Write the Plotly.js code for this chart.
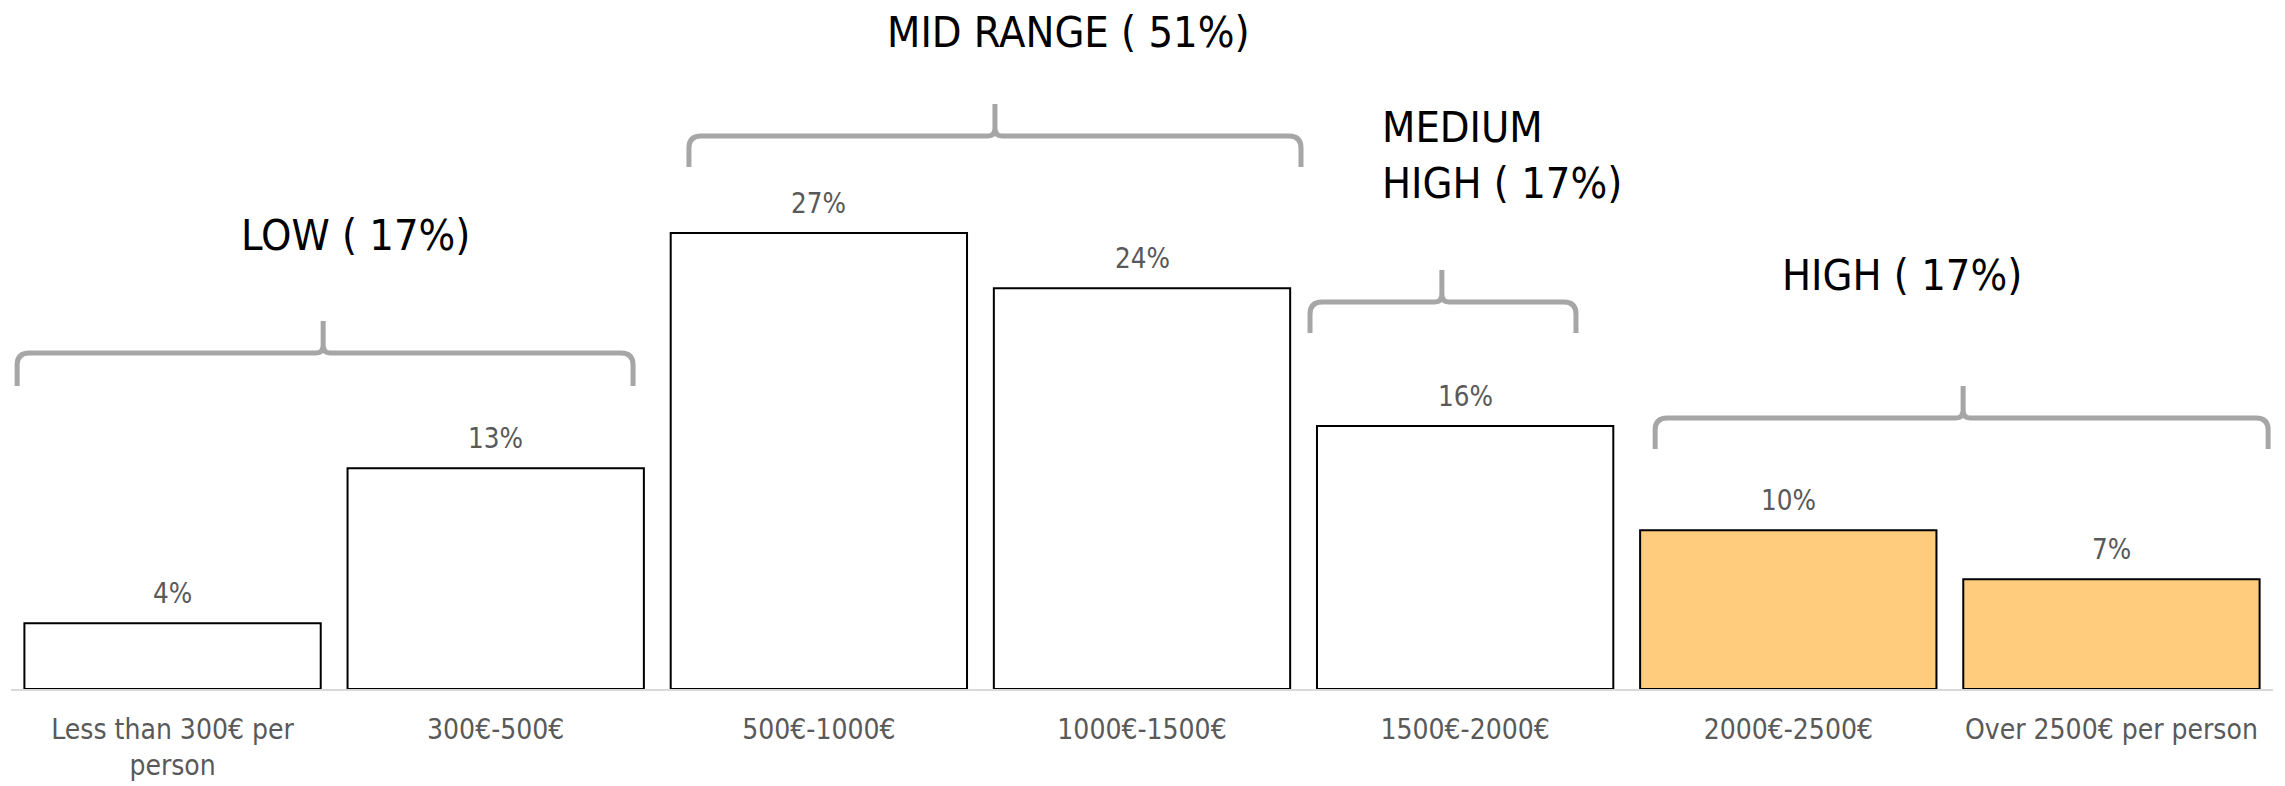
<!DOCTYPE html>
<html>
<head>
<meta charset="utf-8">
<script src="https://cdn.plot.ly/plotly-3.0.1.min.js"></script>
<style>
  html, body { margin: 0; padding: 0; background: #ffffff; }
  #chart { width: 2285px; height: 786px; }
</style>
</head>
<body>
<div id="chart"></div>
<script>
// ---- data ----
const categories = [
  "Less than 300€ per<br>person",
  "300€-500€",
  "500€-1000€",
  "1000€-1500€",
  "1500€-2000€",
  "2000€-2500€",
  "Over 2500€ per person"
];
const shares = [3.93, 13.2, 27.26, 23.96, 15.72, 9.49, 6.56];
const shareLabels = ["4%", "13%", "27%", "24%", "16%", "10%", "7%"];

const groupNames = ["LOW ( 17%)", "MID RANGE ( 51%)", "MEDIUM<br>HIGH ( 17%)", "HIGH ( 17%)"];
// brace spans in axis units: [start, end, tip x] along category index, [foot, line, tip] along %
const braceStart = [-0.481, 1.598, 3.520, 4.588];
const braceEnd   = [1.425, 3.492, 4.343, 6.485];
const braceTip   = [0.466, 2.545, 3.928, 5.541];
const braceFoot  = [18.12, 31.21, 21.29, 14.35];
const braceLine  = [20.09, 33.06, 23.14, 16.20];
const braceTop   = [22.00, 34.98, 25.05, 18.12];
// group title positions in axis units
const groupLabelX = [0.565, 2.771, 3.737, 5.351];
const groupLabelY = [27.15, 39.28, 31.95, 24.75];

// ---- styles ----
const barColors = ["#ffffff", "#ffffff", "#ffffff", "#ffffff", "#ffffff", "#ffcc7d", "#ffcc7d"];
const FONT = '"DejaVu Sans Condensed", "DejaVu Sans", sans-serif';
const W = 2285, H = 786;
const M = { l: 11, r: 12, t: 20, b: 97 };
const Y_MAX = 40;
const pxPerX = (W - M.l - M.r) / categories.length;
const pxPerY = (H - M.t - M.b) / Y_MAX;

function bracePath(i) {
  const x0 = braceStart[i], x1 = braceEnd[i], xm = braceTip[i];
  const yF = braceFoot[i], yL = braceLine[i], yT = braceTop[i];
  const rx = 12 / pxPerX, ry = 12 / pxPerY;
  const cx = 7 / pxPerX, cy = 8 / pxPerY;
  return [
    `M ${x0},${yF}`,
    `L ${x0},${yL - ry}`,
    `Q ${x0},${yL} ${x0 + rx},${yL}`,
    `L ${xm - cx},${yL}`,
    `Q ${xm},${yL} ${xm},${yL + cy}`,
    `L ${xm},${yT}`,
    `M ${xm},${yL + cy}`,
    `Q ${xm},${yL} ${xm + cx},${yL}`,
    `L ${x1 - rx},${yL}`,
    `Q ${x1},${yL} ${x1},${yL - ry}`,
    `L ${x1},${yF}`
  ].join(' ');
}

const trace = {
  type: 'bar',
  x: categories,
  y: shares,
  marker: { color: barColors, line: { color: '#000000', width: 2 } },
  hoverinfo: 'none'
};

const annotations = [];
categories.forEach((c, i) => {
  annotations.push({
    xref: 'x', yref: 'y', x: c, y: shares[i],
    text: shareLabels[i], showarrow: false,
    yanchor: 'middle', yshift: 30,
    font: { family: FONT, size: 27.5, color: '#595959' }
  });
});
groupNames.forEach((g, i) => {
  annotations.push({
    xref: 'x', yref: 'y', x: groupLabelX[i], y: groupLabelY[i],
    text: g, showarrow: false,
    xanchor: i === 2 ? 'left' : 'center', align: 'left',
    yanchor: 'middle',
    font: { family: FONT, size: 43, color: '#000000' }
  });
});

const shapes = groupNames.map((g, i) => ({
  type: 'path', xref: 'x', yref: 'y',
  path: bracePath(i),
  line: { color: '#a6a6a6', width: 5 },
  layer: 'above'
}));

const layout = {
  width: W, height: H,
  margin: M,
  paper_bgcolor: '#ffffff',
  plot_bgcolor: '#ffffff',
  showlegend: false,
  bargap: 0.083,
  font: { family: FONT, color: '#595959' },
  xaxis: {
    type: 'category',
    showline: true, linecolor: '#d9d9d9', linewidth: 2,
    showgrid: false, zeroline: false,
    ticks: 'outside', ticklen: 14, tickcolor: 'rgba(0,0,0,0)',
    tickfont: { family: FONT, size: 28, color: '#595959' },
    fixedrange: true
  },
  yaxis: {
    range: [0, Y_MAX], visible: false,
    showgrid: false, zeroline: false, fixedrange: true
  },
  annotations: annotations,
  shapes: shapes
};

Plotly.newPlot('chart', [trace], layout, { displayModeBar: false, staticPlot: true });
</script>
</body>
</html>
